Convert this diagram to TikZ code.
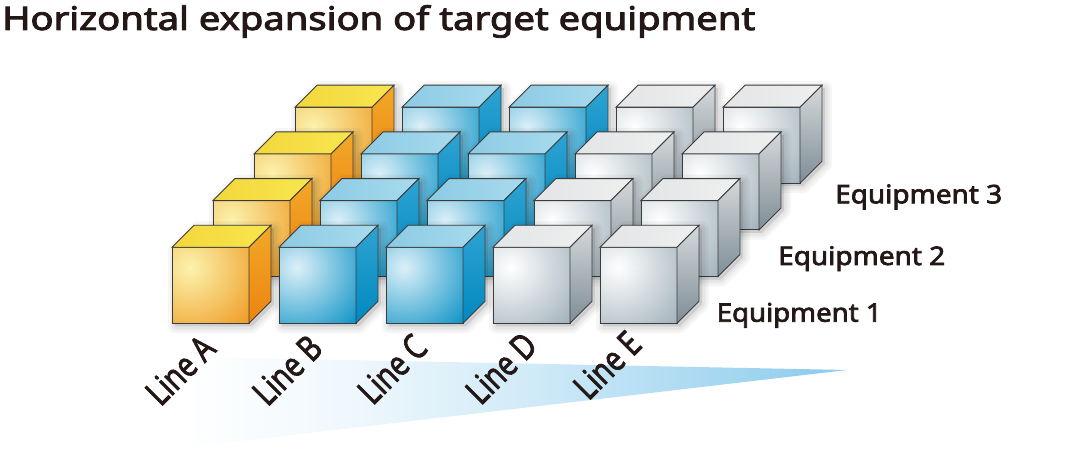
\documentclass[tikz,border=0pt]{standalone}
\usepackage{fontspec}
\setmainfont{Noto Sans}
\newfontfamily\heavy[FakeBold=2.6]{Noto Sans}
\newfontfamily\heavyb[FakeBold=2.2]{Noto Sans}
\usepackage{graphicx}
\definecolor{txt}{HTML}{231815}
\definecolor{edge}{HTML}{3C3C3C}
\definecolor{wedgeA}{HTML}{F0F8FD}
\definecolor{wedgemid}{HTML}{D2EBF8}
\definecolor{wedgeR}{HTML}{8ACBEC}
\pgfdeclarehorizontalshading{wedgeshade}{100bp}{color(0bp)=(white); color(25bp)=(white); color(34bp)=(white); color(44bp)=(wedgeA); color(55bp)=(wedgemid); color(75bp)=(wedgeR); color(100bp)=(wedgeR)}
% yellow
\definecolor{yelin}{HTML}{FBF3AE}
\definecolor{yelout}{HTML}{EF9A22}
\definecolor{yeltopL}{HTML}{F3D73C}
\definecolor{yeltopR}{HTML}{F8E64E}
\definecolor{yelsideT}{HTML}{F2A828}
\definecolor{yelsideB}{HTML}{EC8410}
% blue
\definecolor{bluin}{HTML}{DDF0F8}
\definecolor{bluout}{HTML}{0B92C6}
\definecolor{blutopL}{HTML}{8CCBE4}
\definecolor{blutopR}{HTML}{A8DAEE}
\definecolor{blusideT}{HTML}{2FA3D2}
\definecolor{blusideB}{HTML}{0088C0}
% gray
\definecolor{gryin}{HTML}{FFFFFF}
\definecolor{gryout}{HTML}{A0B0BA}
\definecolor{grytopL}{HTML}{E3E5E6}
\definecolor{grytopR}{HTML}{EEEFEF}
\definecolor{grysideT}{HTML}{D5D9DB}
\definecolor{grysideB}{HTML}{7E8D96}
\newcommand\drawcube[3]{%
  \begin{scope}[shift={(#1,#2)}]
    \foreach \w in {14,9,5}{%
      \fill[black,opacity=0.035,line width=\w pt,line join=round,draw=black,draw opacity=0.035]
        (3,79) -- (3,3) -- (25,-19) -- (102,-19) -- (102,57) -- (80,79) -- cycle;}
    \path[draw=edge,line width=0.9pt,fill=#3out,
      path picture={\shade[inner color=#3in,outer color=#3out]
        ([shift={(18,20)}]path picture bounding box.north west) circle (82);}]
      (0,0) rectangle (77,76);
    \path[draw=edge,line width=0.9pt,left color=#3topL,right color=#3topR]
      (0,0) -- (22,-22) -- (99,-22) -- (77,0) -- cycle;
    \path[draw=edge,line width=0.9pt,top color=#3sideT,bottom color=#3sideB]
      (77,0) -- (99,-22) -- (99,54) -- (77,76) -- cycle;
  \end{scope}}
\newcommand\linetext[1]{\scalebox{0.8}[1]{#1}}
\tikzset{
  linelab/.style={rotate=45,inner sep=0pt,text=txt,font=\heavyb\fontsize{35}{36}\selectfont},
  eqlab/.style={anchor=base west,inner sep=0pt,text=txt,font=\heavy\fontsize{25.6}{26}\selectfont},
}
\begin{document}
\begin{tikzpicture}[x=1pt,y=-1pt]
\useasboundingbox (0,0) rectangle (1080,462);
% wedge
\shade[shading=wedgeshade]
  (847,370) -- (145,356) -- (36,465) -- cycle;
% cubes
\foreach \r in {3,2,1,0}{%
  \foreach \c/\t in {0/yel,1/blu,2/blu,3/gry,4/gry}{%
    \pgfmathsetmacro\cx{172+107*\c+41*\r}%
    \pgfmathsetmacro\cy{247.3-46.7*\r}%
    \begingroup\edef\x{\noexpand\drawcube{\cx}{\cy}{\t}}\x\endgroup
  }}
% title
\node[anchor=base west,inner sep=0pt,text=txt] (title) at (2,30)
  {\heavy\fontsize{32.5}{34}\selectfont\resizebox{753pt}{\height}{Horizontal expansion of target equipment}};
% line labels
\node[linelab] (lineA) at (180,370) {\linetext{Line A}};
\node[linelab] (lineB) at (287,370) {\linetext{Line B}};
\node[linelab] (lineC) at (392,369) {\linetext{Line C}};
\node[linelab] (lineD) at (501,368) {\linetext{Line D}};
\node[linelab] (lineE) at (607,365) {\linetext{Line E}};
% equipment labels
\node[eqlab] (eq3) at (835,203.3) {\resizebox{167pt}{\height}{Equipment 3}};
\node[eqlab] (eq2) at (778,265) {\resizebox{167pt}{\height}{Equipment 2}};
\node[eqlab] (eq1) at (716.5,321.7) {\resizebox{165pt}{\height}{Equipment 1}};
\end{tikzpicture}
\end{document}
